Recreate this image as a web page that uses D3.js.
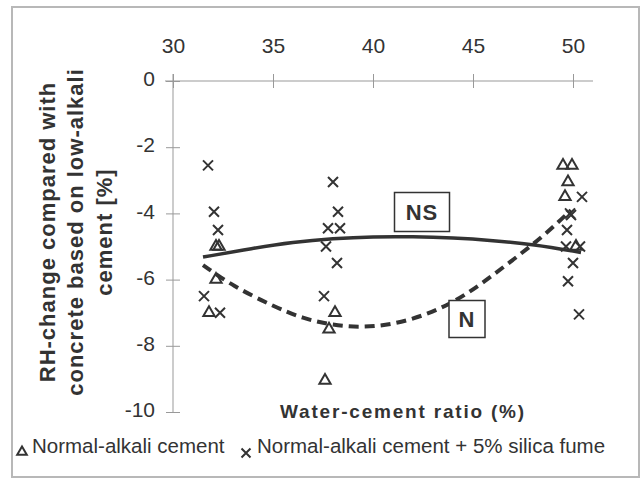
<!DOCTYPE html>
<html>
<head>
<meta charset="utf-8">
<script src="https://cdn.jsdelivr.net/npm/d3@7"></script>
<style>
  body { margin: 0; background: #fff; }
  svg { display: block; font-family: "Liberation Sans", Arial, sans-serif; }
</style>
</head>
<body>
<svg width="644" height="480"></svg>
<script>
// tick values
var xTicks = [30, 35, 40, 45, 50];
var yTicks = [0, -2, -4, -6, -8, -10];

// Normal-alkali cement (triangles)
var triWc = [32.15, 32.3, 32.15, 31.8, 37.8, 38.1, 37.6, 49.5, 49.95, 49.75, 49.6, 50.15];
var triRh = [-5.0, -5.0, -6.0, -7.0, -7.5, -7.0, -9.05, -2.55, -2.55, -3.05, -3.5, -5.0];

// Normal-alkali cement + 5% silica fume (crosses)
var crWc = [31.75, 32.05, 32.25, 31.55, 32.35, 38.0, 38.25, 37.75, 38.35, 37.65, 38.2, 37.55,
            50.45, 49.85, 49.9, 49.7, 49.65, 50.35, 50.0, 49.75, 50.3];
var crRh = [-2.55, -3.95, -4.5, -6.5, -7.0, -3.05, -3.95, -4.45, -4.45, -5.0, -5.5, -6.5,
            -3.5, -4.0, -4.05, -4.5, -5.0, -5.0, -5.5, -6.05, -7.05];

// trend lines
var nsWc = [31.5, 34, 36, 38, 40, 42, 44, 46, 48, 50.4];
var nsRh = [-5.32, -5.05, -4.87, -4.76, -4.7, -4.7, -4.74, -4.82, -4.93, -5.18];
var nWc = [31.5, 33, 35, 36.5, 38, 39.5, 41, 42.5, 44, 45.5, 47, 48.5, 49.9];
var nRh = [-5.56, -6.2, -6.8, -7.18, -7.38, -7.45, -7.35, -7.1, -6.7, -6.1, -5.4, -4.7, -3.9];

var svg = d3.select("svg");
var INK = "#333";

var x = d3.scaleLinear().domain([30, 50]).range([173, 573]);
var y = d3.scaleLinear().domain([0, -10]).range([81, 412]);

// outer frame
svg.append("rect")
  .attr("x", 12).attr("y", 7)
  .attr("width", 627).attr("height", 470)
  .style("fill", "none")
  .style("stroke", "#b8b8b8")
  .style("stroke-width", "2px");

// x axis on top (line at y = 0)
var xAxis = svg.append("g")
  .attr("transform", "translate(0," + y(0) + ")")
  .call(d3.axisTop(x).tickValues(xTicks).tickSize(7).tickSizeOuter(0).tickPadding(21)
        .tickFormat(function(d){ return String(d); }));
xAxis.select(".domain").remove();
xAxis.selectAll(".tick line").attr("y1", 7).style("stroke", "#999");
xAxis.selectAll(".tick text")
  .style("font-size", "21px").style("fill", INK).style("font-family", "inherit");
svg.append("line")
  .attr("x1", x(30) - 8).attr("x2", x(51))
  .attr("y1", y(0)).attr("y2", y(0))
  .style("stroke", "#999").style("stroke-width", "1px");

// y axis
var yAxis = svg.append("g")
  .attr("transform", "translate(" + x(30) + ",0)")
  .call(d3.axisLeft(y).tickValues(yTicks).tickSize(7).tickSizeOuter(0).tickPadding(11)
        .tickFormat(function(d){ return String(d); }));
yAxis.select(".domain").remove();
yAxis.selectAll(".tick line").attr("x1", 7).style("stroke", "#999");
yAxis.selectAll(".tick text")
  .attr("dy", "0.22em")
  .style("font-size", "21px").style("fill", INK).style("font-family", "inherit");
svg.append("line")
  .attr("x1", x(30)).attr("x2", x(30))
  .attr("y1", y(0) - 7).attr("y2", y(-10))
  .style("stroke", "#999").style("stroke-width", "1px");

// y axis title (3 lines)
var yTitle = ["RH-change compared with", "concrete based on low-alkali", "cement [%]"];
svg.selectAll(".ytitle")
  .data(yTitle)
  .enter().append("text")
  .attr("class", "ytitle")
  .attr("transform", function(d, i){ return "translate(" + (47 + i * 28.5) + ",232) rotate(-90)"; })
  .attr("text-anchor", "middle")
  .attr("dy", "0.35em")
  .style("font-size", "22px").style("font-weight", "bold").style("fill", INK)
  .style("letter-spacing", "1px")
  .text(function(d){ return d; });

// x axis title
svg.append("text")
  .attr("x", 403).attr("y", 418)
  .attr("text-anchor", "middle")
  .style("font-size", "19px").style("font-weight", "bold").style("fill", INK)
  .style("letter-spacing", "1.8px")
  .text("Water-cement ratio (%)");

// trend lines
var line = d3.line().curve(d3.curveBasis);
svg.append("path")
  .attr("d", line(nsWc.map(function(d, i){ return [x(d), y(nsRh[i])]; })))
  .style("fill", "none").style("stroke", INK).style("stroke-width", "3.5px");
svg.append("path")
  .attr("d", line(nWc.map(function(d, i){ return [x(d), y(nRh[i])]; })))
  .style("fill", "none").style("stroke", INK).style("stroke-width", "4px")
  .style("stroke-dasharray", "10,6");

// markers
var tri = d3.symbol().type(d3.symbolTriangle).size(55);
svg.selectAll(".tri")
  .data(triWc)
  .enter().append("path")
  .attr("class", "tri")
  .attr("d", tri)
  .attr("transform", function(d, i){ return "translate(" + x(d) + "," + y(triRh[i]) + ")"; })
  .style("fill", "none").style("stroke", INK).style("stroke-width", "2px");

function cross(g, cx, cy, r){
  g.append("path")
    .attr("d", "M" + (cx - r) + "," + (cy - r) + "L" + (cx + r) + "," + (cy + r) +
               "M" + (cx - r) + "," + (cy + r) + "L" + (cx + r) + "," + (cy - r))
    .style("fill", "none").style("stroke", INK).style("stroke-width", "2px");
}
crWc.forEach(function(d, i){ cross(svg, x(d), y(crRh[i]), 5); });

// labels in boxes
function boxLabel(cx, cy, w, h, txt){
  svg.append("rect")
    .attr("x", cx - w / 2).attr("y", cy - h / 2)
    .attr("width", w).attr("height", h)
    .style("fill", "#fff").style("stroke", INK).style("stroke-width", "1.5px");
  svg.append("text")
    .attr("x", cx).attr("y", cy).attr("dy", "0.35em")
    .attr("text-anchor", "middle")
    .style("font-size", "22px").style("font-weight", "bold").style("fill", INK)
    .style("letter-spacing", "1px")
    .text(txt);
}
boxLabel(x(42.45), 212, 55, 39, "NS");
boxLabel(x(44.7), 319, 36, 37, "N");

// legend
var lg = svg.append("g");
lg.append("path")
  .attr("d", d3.symbol().type(d3.symbolTriangle).size(40))
  .attr("transform", "translate(22,452)")
  .style("fill", "none").style("stroke", INK).style("stroke-width", "2px");
lg.append("text")
  .attr("x", 32).attr("y", 453)
  .style("font-size", "20.5px").style("fill", INK)
  .text("Normal-alkali cement");
cross(lg, 246, 453, 4.5);
lg.append("text")
  .attr("x", 257).attr("y", 453)
  .style("font-size", "20.5px").style("fill", INK)
  .text("Normal-alkali cement + 5% silica fume");
</script>
</body>
</html>
